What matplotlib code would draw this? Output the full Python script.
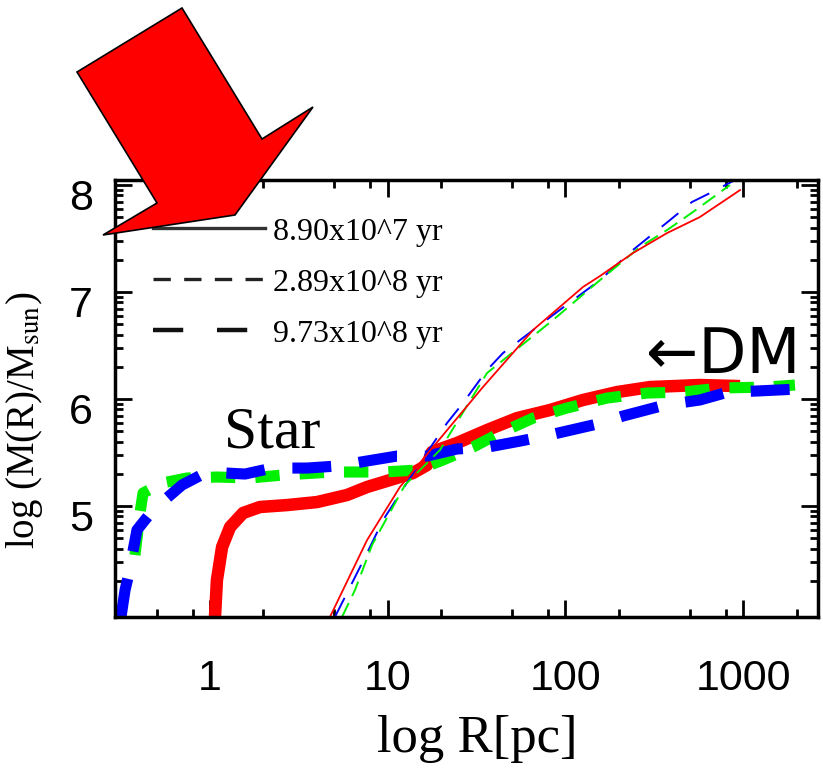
import matplotlib
matplotlib.use("Agg")
import matplotlib.pyplot as plt
import numpy as np
from matplotlib.lines import Line2D
from matplotlib.patches import Polygon
from matplotlib.ticker import LogLocator, FixedLocator, NullFormatter
from matplotlib.transforms import ScaledTranslation

plt.rcParams['mathtext.fontset'] = 'stix'

# star mass profiles (log R [pc], log M)
star_red_logR = [0.028, 0.039, 0.068, 0.113, 0.186, 0.281, 0.433, 0.602, 0.771, 0.884, 1.013,
                 1.142, 1.221, 1.249, 1.390, 1.559, 1.728, 1.913, 2.099, 2.290, 2.476, 2.757, 2.983]
star_red_logM = [3.963, 4.308, 4.617, 4.804, 4.935, 4.991, 5.009, 5.037, 5.103, 5.178, 5.243,
                 5.308, 5.383, 5.505, 5.589, 5.710, 5.822, 5.897, 5.991, 6.065, 6.112, 6.131, 6.121]

star_green_logR = [-0.422, -0.394, -0.377, -0.270, -0.129, 0.039, 0.225, 0.411, 0.692, 0.974, 1.165,
                   1.311, 1.480, 1.632, 1.818, 2.009, 2.234, 2.459, 2.662, 2.870, 3.134, 3.292]
star_green_logM = [4.542, 4.935, 5.121, 5.215, 5.262, 5.271, 5.262, 5.290, 5.318, 5.318, 5.336,
                   5.430, 5.551, 5.682, 5.822, 5.916, 6.009, 6.056, 6.065, 6.103, 6.112, 6.131]

star_blue_logR = [-0.501, -0.478, -0.461, -0.411, -0.321, -0.158, -0.017, 0.197, 0.349, 0.546, 0.715,
                  0.884, 1.052, 1.221, 1.390, 1.564, 1.745, 1.885, 2.178, 2.324, 2.560, 2.757, 2.915,
                  3.078, 3.303]
star_blue_logM = [3.963, 4.215, 4.336, 4.776, 4.963, 5.196, 5.318, 5.299, 5.355, 5.355, 5.374,
                  5.421, 5.467, 5.467, 5.533, 5.551, 5.607, 5.654, 5.766, 5.841, 5.944, 5.991, 6.065,
                  6.075, 6.093]

# dark matter mass profiles
dm_red_logR = [0.675, 0.884, 1.069, 1.255, 1.536, 1.818, 2.099, 2.195, 2.380, 2.572, 2.757, 2.983]
dm_red_logM = [3.963, 4.682, 5.178, 5.551, 6.112, 6.645, 7.047, 7.150, 7.364, 7.551, 7.701, 7.953]

dm_green_logR = [0.743, 0.816, 0.912, 1.097, 1.294, 1.559, 1.930, 2.195, 2.420, 2.572, 2.718, 2.926]
dm_green_logM = [3.963, 4.215, 4.636, 5.196, 5.523, 6.243, 6.738, 7.112, 7.421, 7.579, 7.748, 8.0]

dm_blue_logR = [0.703, 0.788, 0.884, 0.974, 1.154, 1.334, 1.424, 1.559, 1.649, 1.930, 2.195, 2.380,
                2.589, 2.712, 2.814, 2.943]
dm_blue_logM = [3.963, 4.243, 4.561, 4.869, 5.336, 5.776, 5.963, 6.271, 6.430, 6.785, 7.112, 7.393,
                7.673, 7.841, 7.925, 8.037]

legend_labels = ['8.90x10^7 yr', '2.89x10^8 yr', '9.73x10^8 yr']
xtick_vals = [1, 10, 100, 1000]
xtick_labels = ['1', '10', '100', '1000']
ytick_vals = [5, 6, 7, 8]

W, H = 823, 780
fig = plt.figure(figsize=(W / 100, H / 100), dpi=100)
ax = fig.add_axes([115 / W, 1 - 617 / H, (818 - 115) / W, (617 - 180) / H])

RED, GREEN, BLUE = '#ff0000', '#00f000', '#0000ff'

# thick: stars
ax.plot(10 ** np.array(star_red_logR), star_red_logM, color=RED, lw=9, solid_capstyle='butt')
ax.plot(10 ** np.array(star_green_logR), star_green_logM, color=GREEN, lw=8, dashes=(2.2, 1.8))
ax.plot(10 ** np.array(star_blue_logR), star_blue_logM, color=BLUE, lw=8, dashes=(3.5, 2.5))
# thin: DM
ax.plot(10 ** np.array(dm_blue_logR), dm_blue_logM, color=BLUE, lw=1.4, dashes=(11, 8))
ax.plot(10 ** np.array(dm_green_logR), dm_green_logM, color=GREEN, lw=1.4, dashes=(8, 4))
ax.plot(10 ** np.array(dm_red_logR), dm_red_logM, color=RED, lw=1.3)

ax.set_xscale('log')
ax.set_xlim(0.292, 2640)
ax.set_ylim(3.963, 8.047)

ax.xaxis.set_major_locator(FixedLocator(xtick_vals))
ax.set_xticklabels(xtick_labels)
ax.xaxis.set_minor_locator(LogLocator(base=10, subs=(2, 5, 8)))
ax.xaxis.set_minor_formatter(NullFormatter())
ax.set_yticks(ytick_vals)
ax.yaxis.set_minor_locator(FixedLocator([n + np.log10(k) for n in range(3, 9) for k in range(2, 10)]))

for s in ax.spines.values():
    s.set_linewidth(2.5)
ax.tick_params(which='both', direction='in', top=True, right=True, width=2)
ax.tick_params(which='major', length=12)
ax.tick_params(which='minor', length=6)
ax.tick_params(axis='x', which='major', pad=30)
ax.tick_params(axis='y', which='major', pad=16)
for lab in ax.get_xticklabels() + ax.get_yticklabels():
    lab.set_fontfamily('Liberation Sans')
    lab.set_fontsize(31)
for lab in ax.get_yticklabels():
    lab.set_transform(lab.get_transform() + ScaledTranslation(0, -0.09, fig.dpi_scale_trans))

ax.set_xlabel('log R[pc]', fontfamily='Liberation Serif', fontsize=38)
ax.xaxis.set_label_coords(0.515, -0.225)
ax.set_ylabel(r'log (M(R)/M$_{\mathrm{sun}}$)', fontfamily='Liberation Serif', fontsize=28)
ax.yaxis.set_label_coords(-0.1, 0.451)

handles = [Line2D([], [], color='#333333', lw=2.4),
           Line2D([], [], color='#222222', lw=2.4, dashes=(5.2, 4.0)),
           Line2D([], [], color='#111111', lw=3.2, dashes=(6.8, 7.6))]
ax.legend(handles, legend_labels, loc='upper left', bbox_to_anchor=(0.054, 0.915),
          frameon=False, prop={'family': 'Liberation Serif', 'size': 23},
          handlelength=3.5, handletextpad=0.25, labelspacing=0.68,
          borderaxespad=0, borderpad=0)

fig.text(272 / W, 1 - 448 / H, 'Star', fontfamily='Liberation Serif', fontsize=43,
         ha='center', va='baseline')
fig.text(723 / W, 1 - 373 / H, '\u2190DM', fontfamily='DejaVu Sans', fontsize=45,
         ha='center', va='baseline')

arrow_px = [(182, 8), (77, 72), (157, 203), (103, 235), (235, 215), (313, 107), (262, 139)]
arrow = Polygon([(x / W, 1 - y / H) for x, y in arrow_px], closed=True,
                facecolor='#ff0000', edgecolor='black', lw=1.2,
                transform=fig.transFigure, zorder=10)
fig.add_artist(arrow)

fig.savefig('out.png', dpi=100)
